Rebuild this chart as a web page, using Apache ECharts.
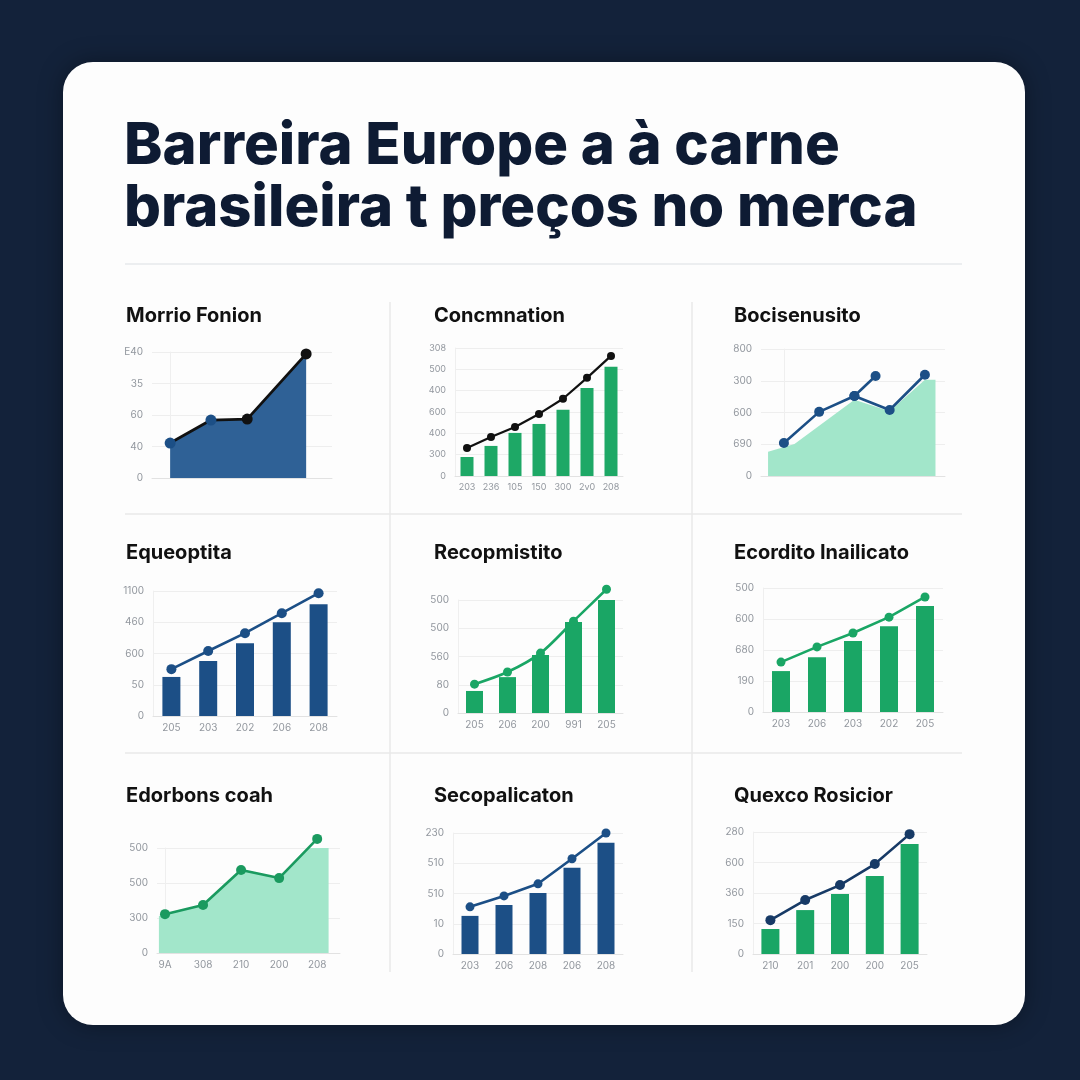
<!DOCTYPE html>
<html><head><meta charset="utf-8">
<script src="https://cdn.jsdelivr.net/npm/echarts@6/dist/echarts.min.js"></script>
<style>html,body{margin:0;padding:0;background:#13223a;}#c{width:1080px;height:1080px;}</style>
</head><body><div id="c"></div>
<script>
// ---------- DATA ----------
const mainTitle1 = "Barreira Europe a à carne";
const mainTitle2 = "brasileira t preços no merca";
const panelTitles = ["Morrio Fonion","Concmnation","Bocisenusito","Equeoptita","Recopmistito","Ecordito Inailicato","Edorbons coah","Secopalicaton","Quexco Rosicior"];

// y tick labels (top -> bottom)
const p1Ticks = ["E40","35","60","40","0"];
const p2Ticks = ["308","500","400","600","400","300","0"];
const p3Ticks = ["800","300","600","690","0"];
const p4Ticks = ["1100","460","600","50","0"];
const p5Ticks = ["500","500","560","80","0"];
const p6Ticks = ["500","600","680","190","0"];
const p7Ticks = ["500","500","300","0"];
const p8Ticks = ["230","510","510","10","0"];
const p9Ticks = ["280","600","360","150","0"];

// x categories
const p2Cats = ["203","236","105","150","300","2v0","208"];
const p4Cats = ["205","203","202","206","208"];
const p5Cats = ["205","206","200","991","205"];
const p6Cats = ["203","206","203","202","205"];
const p7Cats = ["9A","308","210","200","208"];
const p8Cats = ["203","206","208","206","208"];
const p9Cats = ["210","201","200","200","205"];

// panel 1: area line (x positions, values in gridline units)
const p1X = [0, 0.9, 1.7, 3];
const p1Y = [1.11, 1.84, 1.87, 3.94];

// panel 2
const p2Bars = [0.89, 1.41, 2.02, 2.44, 3.10, 4.13, 5.12];
const p2Line = [1.31, 1.83, 2.30, 2.91, 3.62, 4.60, 5.63];

// panel 3: mint area + two line branches
const p3AreaX = [-0.45, 0.3, 2, 3, 4, 4.3];
const p3AreaY = [0.76, 1.01, 2.4, 2.04, 3.03, 3.03];
const p3LineAX = [0, 1, 2, 2.6];
const p3LineAY = [1.04, 2.02, 2.52, 3.15];
const p3LineBX = [2, 3, 4];
const p3LineBY = [2.52, 2.08, 3.19];

// panel 4
const p4Bars = [1.25, 1.76, 2.33, 3.0, 3.58];
const p4Line = [1.50, 2.08, 2.65, 3.29, 3.93];
// panel 5
const p5Bars = [0.78, 1.27, 2.05, 3.22, 4.06];
const p5Line = [1.02, 1.45, 2.12, 3.25, 4.38];
// panel 6
const p6Bars = [1.32, 1.77, 2.29, 2.77, 3.42];
const p6Line = [1.61, 2.10, 2.55, 3.06, 3.71];
// panel 7: area + line
const p7AreaX = [-0.16, 0, 1, 2, 3, 3.77, 4.3];
const p7AreaY = [1.06, 1.11, 1.37, 2.37, 2.14, 3.0, 3.0];
const p7X = [0, 1, 2, 3, 4];
const p7Line = [1.11, 1.37, 2.37, 2.14, 3.26];
// panel 8
const p8Bars = [1.26, 1.62, 2.02, 2.85, 3.68];
const p8Line = [1.56, 1.92, 2.32, 3.15, 4.0];
// panel 9
const p9Bars = [0.82, 1.44, 1.97, 2.56, 3.61];
const p9Line = [1.11, 1.77, 2.26, 2.95, 3.93];

// ---------- LAYOUT / STYLE ----------
const FONT = "Inter, 'Noto Sans', sans-serif";
const LBL = '#92979e';
const GRIDC = '#eeeeee';
const GREEN = '#1aa665';
const BLUE = '#1c4f86';
const NAVY = '#173a66';
const MINT = '#a2e6ca';

const grids = [
  {left:152, top:352, width:180, height:126},
  {left:455, top:348, width:168, height:128},
  {left:761, top:349, width:184, height:127},
  {left:153, top:591, width:184, height:125},
  {left:458, top:600, width:165, height:113},
  {left:763, top:588, width:180, height:124},
  {left:157, top:848, width:183, height:105},
  {left:453, top:833, width:170, height:121},
  {left:753, top:832, width:174, height:122}
];
const tickSets = [p1Ticks,p2Ticks,p3Ticks,p4Ticks,p5Ticks,p6Ticks,p7Ticks,p8Ticks,p9Ticks];

const yAxes = tickSets.map((t,i)=>{
  const n = t.length-1;
  return {type:'value', gridIndex:i, min:0, max:n, interval:1,
    axisLabel:{formatter:(v)=>t[n-Math.round(v)], color:LBL, fontSize:(i===1?9:10), margin:9, fontFamily:FONT},
    splitLine:{lineStyle:{color:GRIDC, width:1}},
    axisLine:{show:true, lineStyle:{color:'#efefef'}}, axisTick:{show:false}};
});

function catAxis(i, cats, fs){
  return {type:'category', gridIndex:i, data:cats,
    axisLine:{lineStyle:{color:'#e2e2e2'}}, axisTick:{show:false},
    axisLabel:{color:LBL, fontSize:fs||10, margin:7, interval:0, fontFamily:FONT}};
}
function valAxis(i, min, max, cats){
  const a = {type:'value', gridIndex:i, min:min, max:max,
    splitLine:{show:false}, axisTick:{show:false},
    axisLine:{show:true, lineStyle:{color:'#e2e2e2'}},
    axisLabel:{show:false}};
  if (cats){
    a.axisLabel = {show:true, customValues:cats.map((c,k)=>k), formatter:(v)=>cats[Math.round(v)],
      color:LBL, fontSize:10, margin:7, fontFamily:FONT};
  }
  return a;
}

const xAxes = [
  valAxis(0, -0.4, 3.57),
  catAxis(1, p2Cats, 9),
  valAxis(2, -0.65, 4.57),
  catAxis(3, p4Cats),
  catAxis(4, p5Cats),
  catAxis(5, p6Cats),
  valAxis(6, -0.21, 4.6, p7Cats),
  catAxis(7, p8Cats),
  catAxis(8, p9Cats)
];

const zip = (xs, ys) => xs.map((x,k)=>[x, ys[k]]);

function barS(i, data, color, w){
  return {type:'bar', xAxisIndex:i, yAxisIndex:i, data:data, barWidth:w, itemStyle:{color:color}, z:2};
}
function lineS(i, data, color, opts){
  return Object.assign({type:'line', xAxisIndex:i, yAxisIndex:i, data:data, clip:false,
    symbol:'circle', symbolSize:9, lineStyle:{color:color, width:2.6},
    itemStyle:{color:color}, z:5}, opts||{});
}

const p1Colors = [BLUE, BLUE, '#111111', '#111111'];
const series = [
  // panel 1
  lineS(0, zip(p1X,p1Y).map((d,k)=>({value:d, itemStyle:{color:p1Colors[k]}})), '#111111',
    {symbolSize:11, lineStyle:{color:'#111111', width:2.8}, areaStyle:{color:'#2f6196', opacity:1}}),
  // panel 2
  barS(1, p2Bars, '#1ea866', 13),
  lineS(1, p2Line, '#111111', {symbolSize:8, lineStyle:{color:'#111111', width:2.2}}),
  // panel 3
  {type:'line', xAxisIndex:2, yAxisIndex:2, data:zip(p3AreaX,p3AreaY), symbol:'none',
    lineStyle:{width:0}, areaStyle:{color:MINT, opacity:1}, z:2},
  lineS(2, zip(p3LineAX,p3LineAY), BLUE, {symbolSize:10}),
  lineS(2, zip(p3LineBX,p3LineBY), BLUE, {symbolSize:10}),
  // panel 4
  barS(3, p4Bars, BLUE, 18),
  lineS(3, p4Line, BLUE, {symbolSize:10}),
  // panel 5
  barS(4, p5Bars, GREEN, 17),
  lineS(4, p5Line, GREEN, {smooth:0.3, symbolSize:9}),
  // panel 6
  barS(5, p6Bars, GREEN, 18),
  lineS(5, p6Line, GREEN, {symbolSize:9}),
  // panel 7
  {type:'line', xAxisIndex:6, yAxisIndex:6, data:zip(p7AreaX,p7AreaY), symbol:'none',
    lineStyle:{width:0}, areaStyle:{color:MINT, opacity:1}, z:2},
  lineS(6, zip(p7X,p7Line), '#1a9a5f', {symbolSize:10}),
  // panel 8
  barS(7, p8Bars, BLUE, 17),
  lineS(7, p8Line, BLUE, {symbolSize:9}),
  // panel 9
  barS(8, p9Bars, GREEN, 18),
  lineS(8, p9Line, NAVY, {symbolSize:10})
];

const titlePos = [[126,316],[434,316],[734,316],[126,553],[434,553],[734,553],[126,796],[434,796],[734,796]];

const graphic = [
  {type:'rect', z:-10, shape:{x:63, y:62, width:962, height:963, r:30},
    style:{fill:'#fdfdfd', shadowBlur:24, shadowColor:'rgba(0,0,0,0.35)'}},
  {type:'text', z:10, x:124, y:147, style:{text:mainTitle1, font:"800 58px " + FONT, fill:'#0e1b33', verticalAlign:'middle'}},
  {type:'text', z:10, x:124, y:209, style:{text:mainTitle2, font:"800 58px " + FONT, fill:'#0e1b33', verticalAlign:'middle'}},
  {type:'line', z:-5, shape:{x1:125, y1:264, x2:962, y2:264}, style:{stroke:'#e6e8eb', lineWidth:1.5}},
  {type:'line', z:-5, shape:{x1:390, y1:302, x2:390, y2:972}, style:{stroke:'#e8e8e8', lineWidth:1.5}},
  {type:'line', z:-5, shape:{x1:692, y1:302, x2:692, y2:972}, style:{stroke:'#e8e8e8', lineWidth:1.5}},
  {type:'line', z:-5, shape:{x1:125, y1:514, x2:962, y2:514}, style:{stroke:'#e8e8e8', lineWidth:1.5}},
  {type:'line', z:-5, shape:{x1:125, y1:753, x2:962, y2:753}, style:{stroke:'#e8e8e8', lineWidth:1.5}}
].concat(panelTitles.map((t,k)=>({type:'text', z:10, x:titlePos[k][0], y:titlePos[k][1],
  style:{text:t, font:"700 20px " + FONT, fill:'#111111', verticalAlign:'middle'}})));

const chart = echarts.init(document.getElementById('c'), null, {renderer:'canvas'});
chart.setOption({
  backgroundColor:'#13223a',
  animation:false,
  grid:grids,
  xAxis:xAxes,
  yAxis:yAxes,
  series:series,
  graphic:graphic
});
</script>
</body></html>
